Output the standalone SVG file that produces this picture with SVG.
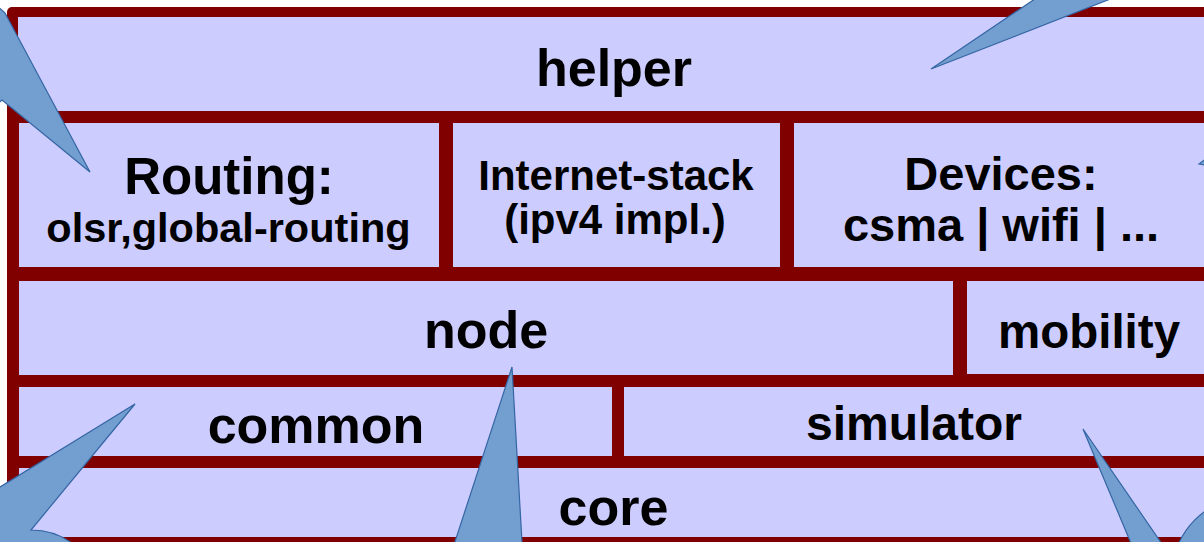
<svg xmlns="http://www.w3.org/2000/svg" width="1204" height="542" viewBox="0 0 1204 542">
<style>
.cell{fill:#ccccff;}
.t{font-family:"Liberation Sans",Arial,sans-serif;font-weight:bold;fill:#000;text-anchor:middle;}
.call{fill:#729fcf;stroke:#3465a4;stroke-width:1.2;stroke-linejoin:miter;}
</style>
<rect x="0" y="0" width="1204" height="542" fill="#ffffff"/>
<rect id="frame" x="7" y="7" width="1230" height="570" rx="5" fill="#800000"/>
<g id="helper">
<rect class="cell" x="18" y="17" width="1200" height="94"/>
<text class="t" x="614" y="86" font-size="52">helper</text>
</g>
<g id="routing">
<rect class="cell" x="19" y="123" width="420" height="144"/>
<text class="t" x="229" y="194" font-size="51">Routing:</text>
<text class="t" x="228.5" y="242" font-size="41.5">olsr,global-routing</text>
</g>
<g id="internet-stack">
<rect class="cell" x="453" y="123" width="327" height="144"/>
<text class="t" x="616" y="190" font-size="42">Internet-stack</text>
<text class="t" x="615" y="234" font-size="42">(ipv4 impl.)</text>
</g>
<g id="devices">
<rect class="cell" x="794" y="123" width="420" height="144"/>
<text class="t" x="1001" y="190" font-size="47">Devices:</text>
<text class="t" x="1001" y="241" font-size="47">csma | wifi | ...</text>
</g>
<g id="node">
<rect class="cell" x="19" y="281" width="934" height="94"/>
<text class="t" x="486" y="348" font-size="52">node</text>
</g>
<g id="mobility">
<rect class="cell" x="967" y="281" width="250" height="93"/>
<text class="t" x="1089" y="348" font-size="47.5">mobility</text>
</g>
<g id="common">
<rect class="cell" x="19" y="387" width="593" height="69"/>
<text class="t" x="316" y="443" font-size="52">common</text>
</g>
<g id="simulator">
<rect class="cell" x="624" y="387" width="590" height="69"/>
<text class="t" x="914" y="440" font-size="48">simulator</text>
</g>
<g id="core">
<rect class="cell" x="19" y="468" width="1195" height="69"/>
<text class="t" x="613.5" y="525" font-size="52">core</text>
</g>
<g id="callouts">
<path class="call" d="M 5,13 L 90,172 L 2,100 A 60 60 0 1 1 5,13 Z"/>
<path class="call" d="M 931,69 L 1063,-20 L 1159,-20 Z"/>
<path class="call" d="M 1199,164 L 1210,156 L 1210,166 Z"/>
<path class="call" d="M 135,404 L 31,530 A 70 70 0 0 1 101,600 L -60,600 L -60,524 Z"/>
<path class="call" d="M 512,367 L 449,560 L 523,560 Z"/>
<path class="call" d="M 1083,429 L 1138,560 L 1173,560 Z"/>
<circle class="call" cx="1250" cy="575" r="78"/>
</g>
</svg>
